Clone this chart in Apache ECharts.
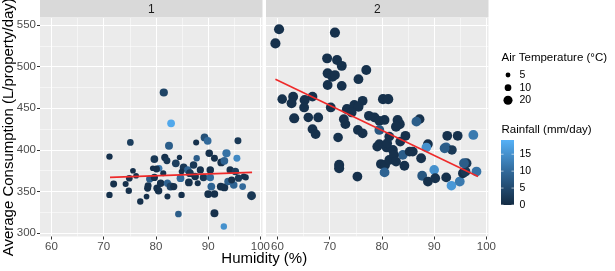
<!DOCTYPE html>
<html><head><meta charset="utf-8">
<script src="https://cdn.jsdelivr.net/npm/echarts@6/dist/echarts.min.js"></script>
<style>html,body{margin:0;padding:0;background:#fff}#c{width:615px;height:271px}</style>
</head><body><div id="c"></div>
<script>
// ---------- data ----------
const panelLabels = ['1', '2'];
const xTicks = [60, 70, 80, 90, 100];
const yTicks = [300, 350, 400, 450, 500, 550];
const sizeBreaks = [5, 10, 20];
const rainBreaks = [0, 5, 10, 15];
const xTitle = 'Humidity (%)';
const yTitle = 'Average Consumption (L/property/day)';
const sizeTitle = 'Air Temperature (°C)';
const colorTitle = 'Rainfall (mm/day)';

// panel 1
const humidity1 = [81.5,82.9,75.1,71.1,82.5,87.7,89.3,89.9,95.7,93.5,95.5,79.7,81.7,82.1,80.6,80.1,83.8,84.5,85.3,86.1,87.2,87.8,90.2,91.2,92.5,93.1,94.2,95.2,96.8,97.2,90.4,88.5,84.7,86.3,88.0,89.1,90.4,90.6,90.0,91.2,92.4,93.1,93.8,94.9,94.5,95.8,96.6,98.3,91.2,93.0,84.3,84.9,82.2,80.5,80.2,78.4,78.2,77.0,74.8,74.2,71.9,71.1,75.6,76.2,74.9,78.5,78.8,79.7,80.9,82.2,82.8,83.4,81.4,84.9,79.4,86.5,87.5];
const consumption1 = [469,432,409,392,405,409,415,411,411,396,390,389,391,387,378,377,384,391,379,376,382,390,396,390,385,387,376,374,368,367,376,376,366,361,360,367,367,356,347,347,356,355,362,358,364,366,356,345,324,308,323,346,344,351,354,354,344,338,351,359,359,346,375,369,366,357,365,367,360,360,356,356,372,374,378,372,368];
const temp1 = [16,14,10,9,15,8,14,14,11,16,11,14,12,11,10,11,14,6,14,13,13,9,13,11,14,14,12,13,8,8,13,12,14,14,8,13,13,14,14,13,14,14,13,13,11,12,10,19,15,9,10,9,8,13,12,11,7,9,9,8,11,9,7,7,10,11,12,12,13,12,15,12,8,7,7,14,13];
const rain1 = [4,18,3,1,8,1,6,10,2,11,14,2,1,2,12,1,3,1,2,9,2,8,1,1,1,9,1,3,1,1,1,1,10,1,1,2,10,9,1,1,1,1,8,9,1,2,10,2,1,15,8,1,1,1,1,1,1,1,1,1,1,1,1,1,1,1,8,1,1,9,4,1,1,1,1,2,1];

// panel 2
const humidity2 = [60.3,59.6,71.0,69.5,71.4,72.3,77.0,75.5,69.6,70.5,71.0,69.6,72.3,60.9,63.0,62.7,65.2,66.7,65.1,63.2,65.9,67.8,66.7,67.3,70.2,73.3,74.7,76.3,75.5,74.2,72.7,73.0,75.4,76.3,71.6,77.5,78.6,79.5,80.5,80.2,81.2,83.0,83.4,82.7,79.5,81.4,84.5,87.2,86.6,79.5,79.1,80.9,82.1,84.0,85.3,88.8,88.5,92.5,94.5,92.3,93.4,71.8,71.8,75.3,79.8,80.6,81.4,82.3,82.7,80.5,84.3,85.9,87.5,87.7,88.8,90.0,90.2,92.3,93.3,94.9,92.0,95.5,97.5,96.2,96.0,98.1,95.7,81.0,83.5];
const consumption2 = [545,528,541,510,508,501,496,485,492,488,490,478,477,461,464,456,460,464,451,438,439,439,425,419,451,449,454,459,452,445,437,431,424,420,415,441,439,435,436,461,461,436,431,428,424,416,417,437,434,407,404,403,400,394,398,407,403,417,417,403,400,382,378,368,383,382,388,394,386,373,381,398,390,369,362,376,366,367,357,362,402,372,418,384,374,374,384,408,410];
const temp2 = [26,26,26,25,25,25,25,24,25,25,24,24,24,23,25,25,26,24,24,26,23,24,24,24,24,26,24,24,26,24,24,24,24,24,23,24,24,24,24,26,26,26,26,26,24,24,24,24,24,24,24,24,24,23,24,24,23,24,24,24,23,26,26,24,24,24,24,24,24,24,24,24,24,24,24,23,24,24,23,24,24,24,24,24,24,24,24,24,24];
const rain2 = [1,1,1,1,1,1,1,1,1,1,1,1,1,1,1,1,1,1,1,1,1,1,1,1,1,1,1,1,1,1,1,1,1,1,1,1,1,1,1,1,1,1,1,1,7,1,1,1,8,1,1,1,1,8,1,1,15,1,1,9,2,1,1,1,1,1,1,1,1,9,1,1,1,7,1,15,1,1,16,12,8,1,12,2,2,11,8,1,1];

// fitted lines
const fit1X = [71.2, 98.4], fit1Y = [367, 373];
const fit2X = [59.6, 98.4], fit2Y = [485, 368];

const xRange = [57.8, 100.4];
const yRange = [296, 558.5];
const rainRange = [0, 19.2];
const tempRange = [2, 27];

// ---------- layout / style ----------
const L = { top: 18, h: 218.5, w: 222.5, lefts: [40, 266], stripH: 17.5 };
const rainColors = ['#132B43', '#306797', '#56B1F7'];
const sizeOf = t => 2 + 8.3 * Math.sqrt(Math.max(0, (t - tempRange[0]) / (tempRange[1] - tempRange[0])));

function pts(h, c, t, r) { return h.map((v, i) => [v, c[i], t[i], r[i]]); }
function pairs(x, y) { return x.map((v, i) => [v, y[i]]); }

const chart = echarts.init(document.getElementById('c'), null, { renderer: 'canvas' });

const grids = L.lefts.map(l => ({
  left: l, top: L.top, width: L.w, height: L.h,
  show: true, backgroundColor: '#EBEBEB', borderWidth: 0,
  containLabel: false, outerBoundsMode: 'none'
}));

const axisFont = { fontFamily: 'Liberation Sans, Arial, sans-serif', fontSize: 11.5, color: '#4D4D4D' };

const xAxes = [0, 1].map(i => ({
  type: 'value', gridIndex: i, min: xRange[0], max: xRange[1], splitNumber: 5,
  axisLine: { show: false },
  axisTick: { show: true, length: 3, lineStyle: { color: '#333', width: 1 }, customValues: xTicks },
  axisLabel: Object.assign({ margin: 4, customValues: xTicks, formatter: v => String(v) }, axisFont),
  splitLine: { show: true, lineStyle: { color: '#FFFFFF', width: 1 } },
  minorTick: { show: false, splitNumber: 2 },
  minorSplitLine: { show: true, lineStyle: { color: '#FFFFFF', width: 0.5 } }
}));

const yAxes = [0, 1].map(i => ({
  type: 'value', gridIndex: i, min: yRange[0], max: yRange[1], splitNumber: 5,
  axisLine: { show: false },
  axisTick: { show: i === 0, length: 3, lineStyle: { color: '#333', width: 1 }, customValues: yTicks },
  axisLabel: Object.assign({ show: i === 0, margin: 4, customValues: yTicks, formatter: v => String(v) }, axisFont),
  splitLine: { show: true, lineStyle: { color: '#FFFFFF', width: 1 } },
  minorTick: { show: false, splitNumber: 2 },
  minorSplitLine: { show: true, lineStyle: { color: '#FFFFFF', width: 0.5 } }
}));

const scatterBase = {
  type: 'scatter', symbol: 'circle',
  symbolSize: d => sizeOf(d[2]),
  itemStyle: { opacity: 1 },
  emphasis: { disabled: true }, silent: true
};
const lineBase = {
  type: 'line', showSymbol: false, symbol: 'none',
  lineStyle: { color: '#EE2A2A', width: 1.6 }, z: 5, silent: true
};

const series = [
  Object.assign({ xAxisIndex: 0, yAxisIndex: 0, data: pts(humidity1, consumption1, temp1, rain1) }, scatterBase),
  Object.assign({ xAxisIndex: 1, yAxisIndex: 1, data: pts(humidity2, consumption2, temp2, rain2) }, scatterBase),
  Object.assign({ xAxisIndex: 0, yAxisIndex: 0, data: pairs(fit1X, fit1Y) }, lineBase),
  Object.assign({ xAxisIndex: 1, yAxisIndex: 1, data: pairs(fit2X, fit2Y) }, lineBase)
];

// ---------- decorations: strips, titles, legends ----------
const font = 'Liberation Sans, Arial, sans-serif';
const graphic = [];
L.lefts.forEach((l, i) => {
  graphic.push({ type: 'rect', left: l, top: 0, shape: { width: L.w, height: L.stripH }, style: { fill: '#D9D9D9' }, silent: true });
  graphic.push({ type: 'text', x: l + L.w / 2, y: L.stripH / 2 + 0.5, style: { text: panelLabels[i], fill: '#1A1A1A', font: '12px ' + font, align: 'center', verticalAlign: 'middle' }, silent: true });
});
// axis titles
const plotMid = (L.lefts[0] + L.lefts[1] + L.w) / 2;
graphic.push({ type: 'text', x: plotMid, y: 259, style: { text: xTitle, fill: '#000', font: '15px ' + font, align: 'center', verticalAlign: 'middle' }, silent: true });
graphic.push({ type: 'text', x: 9, y: L.top + L.h / 2, rotation: Math.PI / 2, style: { text: yTitle, fill: '#000', font: '15px ' + font, align: 'center', verticalAlign: 'middle' }, silent: true });

// size legend
const legX = 501.5;
graphic.push({ type: 'text', x: legX, y: 57.5, style: { text: sizeTitle, fill: '#000', font: '11.5px ' + font, align: 'left', verticalAlign: 'middle' }, silent: true });
const keyY = [75, 87.7, 100.2];
sizeBreaks.forEach((b, i) => {
  const r = sizeOf(b) / 2;
  graphic.push({ type: 'circle', shape: { cx: 508, cy: keyY[i], r: r }, style: { fill: '#000' }, silent: true });
  graphic.push({ type: 'text', x: 519.5, y: keyY[i], style: { text: String(b), fill: '#000', font: '10.5px ' + font, align: 'left', verticalAlign: 'middle' }, silent: true });
});

// color bar legend
graphic.push({ type: 'text', x: legX, y: 130, style: { text: colorTitle, fill: '#000', font: '11.5px ' + font, align: 'left', verticalAlign: 'middle' }, silent: true });
const bar = { x: 501, top: 140, bottom: 205, w: 13 };
graphic.push({
  type: 'rect', shape: { x: bar.x, y: bar.top, width: bar.w, height: bar.bottom - bar.top },
  style: { fill: new echarts.graphic.LinearGradient(0, 1, 0, 0, rainColors.map((c, i) => ({ offset: i / (rainColors.length - 1), color: c }))) },
  silent: true
});
const barY = v => bar.bottom - (v - rainRange[0]) / (rainRange[1] - rainRange[0]) * (bar.bottom - bar.top);
rainBreaks.forEach(b => {
  const y = barY(b);
  graphic.push({ type: 'line', shape: { x1: bar.x, y1: y, x2: bar.x + 2.5, y2: y }, style: { stroke: '#fff', lineWidth: 0.6 }, silent: true });
  graphic.push({ type: 'line', shape: { x1: bar.x + bar.w - 2.5, y1: y, x2: bar.x + bar.w, y2: y }, style: { stroke: '#fff', lineWidth: 0.6 }, silent: true });
  graphic.push({ type: 'text', x: 519.5, y: y, style: { text: String(b), fill: '#000', font: '10.5px ' + font, align: 'left', verticalAlign: 'middle' }, silent: true });
});

chart.setOption({
  animation: false,
  backgroundColor: '#FFFFFF',
  grid: grids,
  xAxis: xAxes,
  yAxis: yAxes,
  visualMap: [{
    show: false, type: 'continuous', dimension: 3, seriesIndex: [0, 1],
    min: rainRange[0], max: rainRange[1], inRange: { color: rainColors }
  }],
  series: series,
  graphic: graphic
});
</script>
</body></html>
